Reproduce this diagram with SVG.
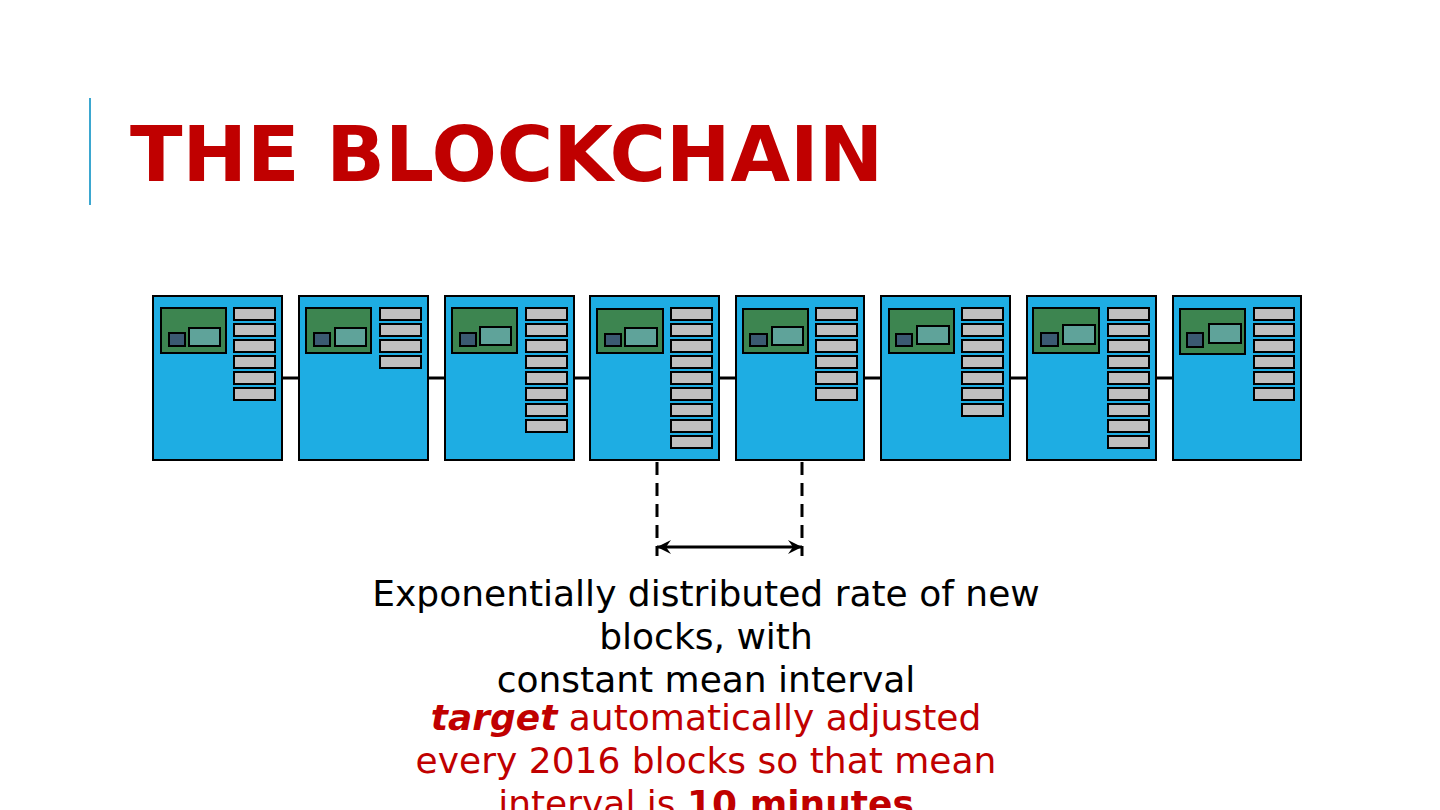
<svg xmlns="http://www.w3.org/2000/svg" width="1440" height="810" viewBox="0 0 1440 810">
<defs>
<style>
.blk{fill:#1eade3;stroke:#000;stroke-width:2}
.hdr{fill:#3d8550;stroke:#000;stroke-width:2}
.dk{fill:#3b5a72;stroke:#000;stroke-width:2}
.tl{fill:#5fa39a;stroke:#000;stroke-width:2}
.bar{fill:#bfbfbf;stroke:#000;stroke-width:2}
.link{stroke:#000;stroke-width:3;fill:none}
.dash{stroke:#000;stroke-width:3;fill:none;stroke-dasharray:13 8}
.txt{font-family:"DejaVu Sans",sans-serif;font-size:36px;text-anchor:middle}
</style>
<marker id="ah" viewBox="0 0 14 14" refX="14" refY="7" markerWidth="14" markerHeight="14" markerUnits="userSpaceOnUse" orient="auto-start-reverse">
<path d="M0,0 L14,7 L0,14 L5,7 z" fill="#000"/>
</marker>
</defs>
<rect width="1440" height="810" fill="#fff"/>
<line x1="90" y1="98" x2="90" y2="205" stroke="#3ba7d0" stroke-width="2"/>
<text id="title" x="130" y="181" font-family="DejaVu Sans, sans-serif" font-weight="bold" font-size="77" fill="#c00000">THE BLOCKCHAIN</text>

<g id="connectors">
<line class="link" x1="282" y1="378" x2="299" y2="378"/>
<line class="link" x1="428" y1="378" x2="445" y2="378"/>
<line class="link" x1="574" y1="378" x2="590" y2="378"/>
<line class="link" x1="719" y1="378" x2="736" y2="378"/>
<line class="link" x1="865" y1="378" x2="881" y2="378"/>
<line class="link" x1="1010" y1="378" x2="1027" y2="378"/>
<line class="link" x1="1156" y1="378" x2="1173" y2="378"/>
<line class="dash" x1="657" y1="462" x2="657" y2="556"/>
<line class="dash" x1="802" y1="462" x2="802" y2="556"/>
<line class="link" x1="657" y1="547" x2="802" y2="547" marker-start="url(#ah)" marker-end="url(#ah)"/>
</g>

<g id="block1" transform="translate(153,296)">
<rect class="blk" x="0" y="0" width="129" height="164"/>
<rect class="hdr" x="8" y="12" width="65" height="45"/>
<rect class="dk" x="16" y="37" width="16" height="13"/>
<rect class="tl" x="36" y="32" width="31" height="18"/>
<rect class="bar" x="81" y="12" width="41" height="12"/><rect class="bar" x="81" y="28" width="41" height="12"/><rect class="bar" x="81" y="44" width="41" height="12"/><rect class="bar" x="81" y="60" width="41" height="12"/><rect class="bar" x="81" y="76" width="41" height="12"/><rect class="bar" x="81" y="92" width="41" height="12"/>
</g>
<g id="block2" transform="translate(299,296)">
<rect class="blk" x="0" y="0" width="129" height="164"/>
<rect class="hdr" x="7" y="12" width="65" height="45"/>
<rect class="dk" x="15" y="37" width="16" height="13"/>
<rect class="tl" x="36" y="32" width="31" height="18"/>
<rect class="bar" x="81" y="12" width="41" height="12"/><rect class="bar" x="81" y="28" width="41" height="12"/><rect class="bar" x="81" y="44" width="41" height="12"/><rect class="bar" x="81" y="60" width="41" height="12"/>
</g>
<g id="block3" transform="translate(445,296)">
<rect class="blk" x="0" y="0" width="129" height="164"/>
<rect class="hdr" x="7" y="12" width="65" height="45"/>
<rect class="dk" x="15" y="37" width="16" height="13"/>
<rect class="tl" x="35" y="31" width="31" height="18"/>
<rect class="bar" x="81" y="12" width="41" height="12"/><rect class="bar" x="81" y="28" width="41" height="12"/><rect class="bar" x="81" y="44" width="41" height="12"/><rect class="bar" x="81" y="60" width="41" height="12"/><rect class="bar" x="81" y="76" width="41" height="12"/><rect class="bar" x="81" y="92" width="41" height="12"/><rect class="bar" x="81" y="108" width="41" height="12"/><rect class="bar" x="81" y="124" width="41" height="12"/>
</g>
<g id="block4" transform="translate(590,296)">
<rect class="blk" x="0" y="0" width="129" height="164"/>
<rect class="hdr" x="7" y="13" width="66" height="44"/>
<rect class="dk" x="15" y="38" width="16" height="12"/>
<rect class="tl" x="35" y="32" width="32" height="18"/>
<rect class="bar" x="81" y="12" width="41" height="12"/><rect class="bar" x="81" y="28" width="41" height="12"/><rect class="bar" x="81" y="44" width="41" height="12"/><rect class="bar" x="81" y="60" width="41" height="12"/><rect class="bar" x="81" y="76" width="41" height="12"/><rect class="bar" x="81" y="92" width="41" height="12"/><rect class="bar" x="81" y="108" width="41" height="12"/><rect class="bar" x="81" y="124" width="41" height="12"/><rect class="bar" x="81" y="140" width="41" height="12"/>
</g>
<g id="block5" transform="translate(736,296)">
<rect class="blk" x="0" y="0" width="128" height="164"/>
<rect class="hdr" x="7" y="13" width="65" height="44"/>
<rect class="dk" x="14" y="38" width="17" height="12"/>
<rect class="tl" x="36" y="31" width="31" height="18"/>
<rect class="bar" x="80" y="12" width="41" height="12"/><rect class="bar" x="80" y="28" width="41" height="12"/><rect class="bar" x="80" y="44" width="41" height="12"/><rect class="bar" x="80" y="60" width="41" height="12"/><rect class="bar" x="80" y="76" width="41" height="12"/><rect class="bar" x="80" y="92" width="41" height="12"/>
</g>
<g id="block6" transform="translate(881,296)">
<rect class="blk" x="0" y="0" width="129" height="164"/>
<rect class="hdr" x="8" y="13" width="65" height="44"/>
<rect class="dk" x="15" y="38" width="16" height="12"/>
<rect class="tl" x="36" y="30" width="32" height="18"/>
<rect class="bar" x="81" y="12" width="41" height="12"/><rect class="bar" x="81" y="28" width="41" height="12"/><rect class="bar" x="81" y="44" width="41" height="12"/><rect class="bar" x="81" y="60" width="41" height="12"/><rect class="bar" x="81" y="76" width="41" height="12"/><rect class="bar" x="81" y="92" width="41" height="12"/><rect class="bar" x="81" y="108" width="41" height="12"/>
</g>
<g id="block7" transform="translate(1027,296)">
<rect class="blk" x="0" y="0" width="129" height="164"/>
<rect class="hdr" x="6" y="12" width="66" height="45"/>
<rect class="dk" x="14" y="37" width="17" height="13"/>
<rect class="tl" x="36" y="29" width="32" height="19"/>
<rect class="bar" x="81" y="12" width="41" height="12"/><rect class="bar" x="81" y="28" width="41" height="12"/><rect class="bar" x="81" y="44" width="41" height="12"/><rect class="bar" x="81" y="60" width="41" height="12"/><rect class="bar" x="81" y="76" width="41" height="12"/><rect class="bar" x="81" y="92" width="41" height="12"/><rect class="bar" x="81" y="108" width="41" height="12"/><rect class="bar" x="81" y="124" width="41" height="12"/><rect class="bar" x="81" y="140" width="41" height="12"/>
</g>
<g id="block8" transform="translate(1173,296)">
<rect class="blk" x="0" y="0" width="128" height="164"/>
<rect class="hdr" x="7" y="13" width="65" height="45"/>
<rect class="dk" x="14" y="37" width="16" height="14"/>
<rect class="tl" x="36" y="28" width="32" height="19"/>
<rect class="bar" x="81" y="12" width="40" height="12"/><rect class="bar" x="81" y="28" width="40" height="12"/><rect class="bar" x="81" y="44" width="40" height="12"/><rect class="bar" x="81" y="60" width="40" height="12"/><rect class="bar" x="81" y="76" width="40" height="12"/><rect class="bar" x="81" y="92" width="40" height="12"/>
</g>

<g id="caption">
<text class="txt" x="706" y="606" fill="#000">Exponentially distributed rate of new</text>
<text class="txt" x="706" y="649" fill="#000">blocks, with</text>
<text class="txt" x="706" y="692" fill="#000">constant mean interval</text>
<text class="txt" x="706" y="730" fill="#c00000"><tspan font-weight="bold" font-style="italic">target</tspan> automatically adjusted</text>
<text class="txt" x="706" y="773" fill="#c00000">every 2016 blocks so that mean</text>
<text class="txt" x="706" y="816" fill="#c00000">interval is <tspan font-weight="bold">10 minutes</tspan></text>
</g>
</svg>
